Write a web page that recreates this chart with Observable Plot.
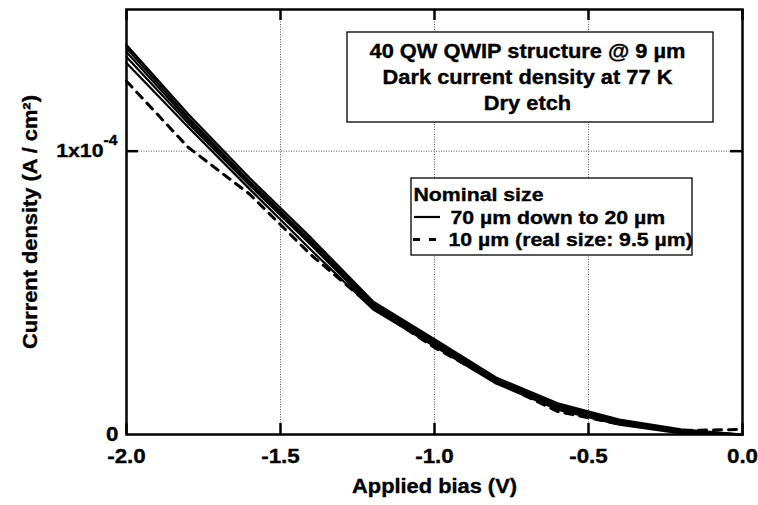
<!DOCTYPE html>
<html><head><meta charset="utf-8">
<script src="https://cdn.jsdelivr.net/npm/d3@7"></script>
<script src="https://cdn.jsdelivr.net/npm/@observablehq/plot@0.6"></script>
<style>body{margin:0;background:#fff} #chart{width:758px;height:505px} #chart svg text{stroke:black;stroke-width:0.35px}</style>
</head><body><div id="chart"></div>
<script>
// ---- data (current density in units of 1e-4 A/cm^2) ----
const bias   = [-2.0, -1.8, -1.6, -1.4, -1.2, -1.0, -0.8, -0.6, -0.4, -0.2, 0.0];
const size70 = [1.375, 1.131, 0.905, 0.693, 0.470, 0.336, 0.201, 0.110, 0.053, 0.018, 0.0];
const size50 = [1.364, 1.120, 0.894, 0.682, 0.463, 0.329, 0.194, 0.103, 0.049, 0.014, 0.0];
const size40 = [1.350, 1.110, 0.887, 0.675, 0.456, 0.325, 0.191, 0.099, 0.046, 0.011, 0.0];
const size30 = [1.332, 1.099, 0.880, 0.668, 0.449, 0.318, 0.187, 0.095, 0.042, 0.007, 0.0];
const size20 = [1.311, 1.085, 0.866, 0.650, 0.442, 0.311, 0.180, 0.088, 0.035, 0.004, 0.0];
const size10 = [1.247, 1.014, 0.848, 0.633, 0.449, 0.307, 0.187, 0.081, 0.037, 0.014, 0.018];
const unit = 1e-4;

const xTicks = [-2.0, -1.5, -1.0, -0.5, 0.0];
const xGrid = [-1.5, -1.0, -0.5];
const yTicks = [0, 1e-4];
const yTickLabels = ["0", "1x10"];
const yExponent = "-4";
const titleLines = ["40 QW QWIP structure @ 9 µm", "Dark current density at 77 K", "Dry etch"];
const legendTitle = "Nominal size";
const legendSolid = "70 µm down to 20 µm";
const legendDashed = "10 µm (real size: 9.5 µm)";
const xLabel = "Applied bias (V)";
const yLabel = "Current density (A / cm²)";

// ---- build tidy rows ----
const solidSeries = [["70", size70], ["50", size50], ["40", size40], ["30", size30], ["20", size20]];
const solidRows = solidSeries.flatMap(([s, vals]) => bias.map((b, i) => ({size: s, bias: b, j: vals[i] * unit})));
const dashedRows = bias.map((b, i) => ({size: "10", bias: b, j: size10[i] * unit}));

// ---- layout ----
const W = 758, H = 505, mL = 126, mR = 16, mT = 9, mB = 71;
const fW = W - mL - mR, fH = H - mT - mB;
const yMax = 1.5e-4;
const X = p => -2 + (p - mL) / fW * 2;          // pixel -> data (annotations only)
const Y = p => (H - mB - p) / fH * yMax;
const font = "'Liberation Sans', Arial, Helvetica, sans-serif";

const chart = Plot.plot({
  width: W, height: H,
  marginLeft: mL, marginRight: mR, marginTop: mT, marginBottom: mB,
  x: {domain: [-2, 0], axis: null},
  y: {domain: [0, yMax], axis: null},
  style: {fontFamily: font, fontWeight: "bold", fontSize: "20px", color: "black", background: "white"},
  marks: [
    Plot.ruleX(xGrid, {stroke: "#555", strokeWidth: 1, strokeDasharray: "1,1.5"}),
    Plot.ruleY([1e-4], {stroke: "#555", strokeWidth: 1, strokeDasharray: "1,1.5"}),
    // title box
    Plot.rect([0], {x1: X(347), x2: X(713), y1: Y(32), y2: Y(122), fill: "white", stroke: "black", strokeWidth: 1.3}),
    Plot.text(titleLines, {x: X(527), y: (d, i) => Y(57 + 26 * i), text: d => d, textAnchor: "middle", lineAnchor: "bottom", fontSize: 19.5, fontWeight: "bold", fill: "black"}),
    // legend box
    Plot.rect([0], {x1: X(411), x2: X(692), y1: Y(178), y2: Y(255), fill: "white", stroke: "black", strokeWidth: 1.3}),
    Plot.text([legendTitle], {x: X(413), y: Y(200), text: d => d, textAnchor: "start", lineAnchor: "bottom", fontSize: 19, fontWeight: "bold", fill: "black"}),
    Plot.ruleY([Y(216.5)], {x1: X(414), x2: X(440), stroke: "black", strokeWidth: 2.2}),
    Plot.text([legendSolid], {x: X(450), y: Y(223), text: d => d, textAnchor: "start", lineAnchor: "bottom", fontSize: 19, fontWeight: "bold", fill: "black"}),
    Plot.ruleY([Y(239)], {x1: X(413), x2: X(436), stroke: "black", strokeWidth: 3, strokeDasharray: "7,9"}),
    Plot.text([legendDashed], {x: X(448), y: Y(245), text: d => d, textAnchor: "start", lineAnchor: "bottom", fontSize: 19, fontWeight: "bold", fill: "black"}),
    // curves
    Plot.line(solidRows, {x: "bias", y: "j", z: "size", stroke: "black", strokeWidth: 2.2}),
    Plot.line(dashedRows, {x: "bias", y: "j", stroke: "black", strokeWidth: 3, strokeDasharray: "8,7"}),
    // inward ticks
    Plot.ruleX(xTicks, {insetTop: fH - 11, stroke: "black", strokeWidth: 2.5}),
    Plot.ruleX(xTicks, {insetBottom: fH - 11, stroke: "black", strokeWidth: 2.5}),
    Plot.ruleY([1e-4], {insetRight: fW - 12, stroke: "black", strokeWidth: 2.5}),
    Plot.ruleY([1e-4], {insetLeft: fW - 12, stroke: "black", strokeWidth: 2.5}),
    Plot.frame({stroke: "black", strokeWidth: 2.5}),
    // axis labels
    Plot.axisX(xTicks, {tickSize: 0, tickPadding: 14, tickFormat: d => d.toFixed(1), fontSize: 20, fontWeight: "bold", label: null}),
    Plot.text([yTicks[0]], {y: d => d, frameAnchor: "left", dx: -8, text: () => yTickLabels[0], textAnchor: "end", lineAnchor: "middle", fontSize: 20, fontWeight: "bold", fill: "black"}),
    Plot.text([yTicks[1]], {y: d => d, frameAnchor: "left", dx: -23, text: () => yTickLabels[1], textAnchor: "end", lineAnchor: "middle", fontSize: 19, fontWeight: "bold", fill: "black"}),
    Plot.text([yTicks[1]], {y: d => d, frameAnchor: "left", dx: -23, dy: -11, text: () => yExponent, textAnchor: "start", lineAnchor: "middle", fontSize: 14, fontWeight: "bold", fill: "black"}),
    Plot.text([yLabel], {frameAnchor: "left", dx: -96, rotate: -90, text: d => d, textAnchor: "middle", lineAnchor: "middle", fontSize: 19.5, fontWeight: "bold", fill: "black"}),
    Plot.text([xLabel], {frameAnchor: "bottom", dy: 52, text: d => d, textAnchor: "middle", lineAnchor: "middle", fontSize: 19.5, fontWeight: "bold", fill: "black"})
  ]
});

// widen glyphs horizontally (reference type is horizontally stretched)
const S = 1.12;
chart.querySelectorAll("text").forEach(t => {
  const tr = t.getAttribute("transform") || "";
  const xa = t.getAttribute("x");
  if (xa !== null && !isNaN(+xa) && +xa !== 0) t.setAttribute("x", +xa / S);
  t.setAttribute("transform", `${tr} scale(${S},1)`);
});
document.getElementById("chart").append(chart);
</script>
</body></html>
